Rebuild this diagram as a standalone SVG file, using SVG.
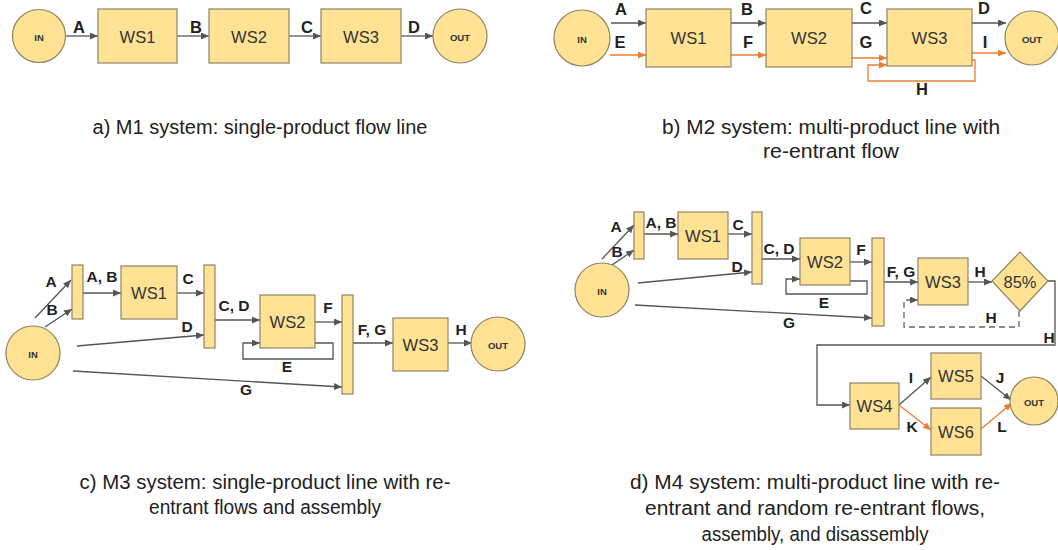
<svg xmlns="http://www.w3.org/2000/svg" width="1058" height="550" viewBox="0 0 1058 550">
<defs>
<style>
.nd{fill:#FFE293;stroke:#8F8465;stroke-width:1.2}
.ln{stroke:#555;stroke-width:1.3;fill:none}
.og{stroke:#ED7D31;stroke-width:1.3;fill:none}
.ds{stroke:#666;stroke-width:1.3;fill:none;stroke-dasharray:6 4}
.lb{font-family:"Liberation Sans",Arial,sans-serif;font-weight:bold;font-size:16.5px;fill:#222;text-anchor:middle}
.lb2{font-family:"Liberation Sans",Arial,sans-serif;font-weight:bold;font-size:15.5px;fill:#222;text-anchor:middle}
.ws{font-family:"Liberation Sans",Arial,sans-serif;font-size:16.5px;fill:#333;text-anchor:middle;dominant-baseline:central}
.io{font-family:"Liberation Sans",Arial,sans-serif;font-weight:bold;font-size:9.5px;fill:#333;text-anchor:middle;dominant-baseline:central}
.cp{font-family:"Liberation Sans",Arial,sans-serif;font-size:20px;fill:#222;text-anchor:middle}
</style>
<marker id="ag" viewBox="0 0 8 7" refX="8" refY="3.5" markerWidth="8" markerHeight="7" markerUnits="userSpaceOnUse" orient="auto"><path d="M0,0 L8,3.5 L0,7 z" fill="#555"/></marker>
<marker id="ao" viewBox="0 0 8 7" refX="8" refY="3.5" markerWidth="8" markerHeight="7" markerUnits="userSpaceOnUse" orient="auto"><path d="M0,0 L8,3.5 L0,7 z" fill="#ED7D31"/></marker>
</defs>
<rect width="1058" height="550" fill="#fff"/>

<!-- Panel a -->
<g id="connectors-a">
<line class="ln" x1="66" y1="36" x2="98" y2="36" marker-end="url(#ag)"/>
<line class="ln" x1="177" y1="36" x2="209" y2="36" marker-end="url(#ag)"/>
<line class="ln" x1="289" y1="36" x2="321" y2="36" marker-end="url(#ag)"/>
<line class="ln" x1="401" y1="36" x2="433" y2="36" marker-end="url(#ag)"/>
<text class="lb" x="79" y="33">A</text>
<text class="lb" x="196" y="33">B</text>
<text class="lb" x="307" y="33">C</text>
<text class="lb" x="414" y="33">D</text>
</g>
<g id="a-in"><circle class="nd" cx="39" cy="36" r="26.5"/><text class="io" x="39" y="37">IN</text></g>
<g id="a-ws1"><rect class="nd" x="98" y="9" width="79" height="54"/><text class="ws" x="137.5" y="37">WS1</text></g>
<g id="a-ws2"><rect class="nd" x="209" y="9" width="80" height="54"/><text class="ws" x="249" y="37">WS2</text></g>
<g id="a-ws3"><rect class="nd" x="321" y="9" width="80" height="54"/><text class="ws" x="361" y="37">WS3</text></g>
<g id="a-out"><circle class="nd" cx="460" cy="36" r="27"/><text class="io" x="460" y="37">OUT</text></g>
<text class="cp" x="260" y="134" textLength="335" lengthAdjust="spacingAndGlyphs">a) M1 system: single-product flow line</text>

<!-- Panel b -->
<g id="connectors-b">
<line class="ln" x1="611" y1="23" x2="646" y2="23" marker-end="url(#ag)"/>
<line class="og" x1="610" y1="55" x2="646" y2="55" marker-end="url(#ao)"/>
<line class="ln" x1="731" y1="23" x2="766" y2="23" marker-end="url(#ag)"/>
<line class="og" x1="731" y1="55" x2="766" y2="55" marker-end="url(#ao)"/>
<line class="ln" x1="852" y1="23" x2="887" y2="23" marker-end="url(#ag)"/>
<line class="og" x1="852" y1="58" x2="887" y2="58" marker-end="url(#ao)"/>
<polyline class="og" points="972,60 975,60 975,81 868,81 868,65 887,65" marker-end="url(#ao)"/>
<line class="ln" x1="972" y1="23" x2="1006" y2="23" marker-end="url(#ag)"/>
<line class="og" x1="972" y1="53" x2="1006" y2="53" marker-end="url(#ao)"/>
<text class="lb" x="621" y="15">A</text>
<text class="lb" x="620" y="48">E</text>
<text class="lb" x="747" y="15">B</text>
<text class="lb" x="748" y="48">F</text>
<text class="lb" x="866" y="14">C</text>
<text class="lb" x="866" y="48">G</text>
<text class="lb" x="984" y="14">D</text>
<text class="lb" x="985" y="48">I</text>
<text class="lb" x="922" y="95">H</text>
</g>
<g id="b-in"><circle class="nd" cx="582" cy="38" r="28"/><text class="io" x="582" y="39">IN</text></g>
<g id="b-ws1"><rect class="nd" x="646" y="9" width="85" height="58"/><text class="ws" x="688.5" y="38">WS1</text></g>
<g id="b-ws2"><rect class="nd" x="766" y="9" width="86" height="58"/><text class="ws" x="809" y="38">WS2</text></g>
<g id="b-ws3"><rect class="nd" x="887" y="9" width="85" height="57"/><text class="ws" x="929.5" y="38">WS3</text></g>
<g id="b-out"><circle class="nd" cx="1032" cy="38" r="27"/><text class="io" x="1032" y="39">OUT</text></g>
<text class="cp" x="831" y="134" textLength="338" lengthAdjust="spacingAndGlyphs">b) M2 system: multi-product line with</text>
<text class="cp" x="831" y="158" textLength="136" lengthAdjust="spacingAndGlyphs">re-entrant flow</text>

<!-- Panel c -->
<g id="connectors-c">
<line class="ln" x1="35" y1="318" x2="71" y2="280" marker-end="url(#ag)"/>
<line class="ln" x1="45" y1="327" x2="72" y2="309" marker-end="url(#ag)"/>
<line class="ln" x1="83" y1="293" x2="121" y2="293" marker-end="url(#ag)"/>
<line class="ln" x1="177" y1="293" x2="204" y2="293" marker-end="url(#ag)"/>
<line class="ln" x1="77" y1="346" x2="204" y2="335" marker-end="url(#ag)"/>
<line class="ln" x1="215" y1="320" x2="260" y2="320" marker-end="url(#ag)"/>
<polyline class="ln" points="315,343 333,343 333,359 243,359 243,343 260,343" marker-end="url(#ag)"/>
<line class="ln" x1="315" y1="322" x2="342" y2="322" marker-end="url(#ag)"/>
<line class="ln" x1="73" y1="371" x2="342" y2="387" marker-end="url(#ag)"/>
<line class="ln" x1="353" y1="343" x2="393" y2="343" marker-end="url(#ag)"/>
<line class="ln" x1="448" y1="343" x2="472" y2="343" marker-end="url(#ag)"/>
<text class="lb2" x="51" y="287">A</text>
<text class="lb2" x="52" y="315">B</text>
<text class="lb2" x="102" y="282">A, B</text>
<text class="lb2" x="188" y="284">C</text>
<text class="lb2" x="187" y="332">D</text>
<text class="lb2" x="234" y="311">C, D</text>
<text class="lb2" x="328" y="313">F</text>
<text class="lb2" x="287" y="372">E</text>
<text class="lb2" x="246" y="395">G</text>
<text class="lb2" x="372" y="335">F, G</text>
<text class="lb2" x="461" y="335">H</text>
</g>
<g id="c-in"><circle class="nd" cx="33" cy="353" r="27"/><text class="io" x="33" y="354">IN</text></g>
<g id="c-m1"><rect class="nd" x="72" y="265" width="11" height="54"/></g>
<g id="c-ws1"><rect class="nd" x="121" y="266" width="56" height="53"/><text class="ws" x="149" y="293">WS1</text></g>
<g id="c-m2"><rect class="nd" x="204" y="265" width="11" height="83"/></g>
<g id="c-ws2"><rect class="nd" x="260" y="295" width="55" height="53"/><text class="ws" x="287.5" y="322">WS2</text></g>
<g id="c-m3"><rect class="nd" x="342" y="295" width="11" height="99"/></g>
<g id="c-ws3"><rect class="nd" x="393" y="318" width="55" height="53"/><text class="ws" x="420.5" y="345">WS3</text></g>
<g id="c-out"><circle class="nd" cx="498" cy="344" r="27"/><text class="io" x="498" y="345">OUT</text></g>
<text class="cp" x="265" y="489" textLength="371" lengthAdjust="spacingAndGlyphs">c) M3 system: single-product line with re-</text>
<text class="cp" x="265" y="514" textLength="232" lengthAdjust="spacingAndGlyphs">entrant flows and assembly</text>

<!-- Panel d -->
<g id="connectors-d">
<line class="ln" x1="602" y1="259" x2="634" y2="225" marker-end="url(#ag)"/>
<line class="ln" x1="612" y1="265" x2="634" y2="250" marker-end="url(#ag)"/>
<line class="ln" x1="644" y1="234" x2="678" y2="234" marker-end="url(#ag)"/>
<line class="ln" x1="728" y1="234" x2="752" y2="234" marker-end="url(#ag)"/>
<line class="ln" x1="638" y1="283" x2="752" y2="272" marker-end="url(#ag)"/>
<line class="ln" x1="762" y1="259" x2="800" y2="259" marker-end="url(#ag)"/>
<polyline class="ln" points="850,281 867,281 867,294 786,294 786,279 800,279" marker-end="url(#ag)"/>
<line class="ln" x1="850" y1="262" x2="872" y2="262" marker-end="url(#ag)"/>
<line class="ln" x1="635" y1="305" x2="872" y2="318" marker-end="url(#ag)"/>
<line class="ln" x1="884" y1="282" x2="918" y2="282" marker-end="url(#ag)"/>
<line class="ln" x1="968" y1="282" x2="992" y2="282" marker-end="url(#ag)"/>
<polyline class="ds" points="1019,311 1019,327 904,327 904,300 918,300" marker-end="url(#ag)"/>
<polyline class="ln" points="1048,281 1055,281 1055,345 817,345 817,405 850,405" marker-end="url(#ag)"/>
<line class="ln" x1="899" y1="405" x2="931" y2="377" marker-end="url(#ag)"/>
<line class="og" x1="899" y1="405" x2="931" y2="430" marker-end="url(#ao)"/>
<line class="ln" x1="981" y1="376" x2="1011" y2="400" marker-end="url(#ag)"/>
<line class="og" x1="981" y1="429" x2="1012" y2="403" marker-end="url(#ao)"/>
<text class="lb2" x="616" y="232">A</text>
<text class="lb2" x="617" y="257">B</text>
<text class="lb2" x="661" y="228">A, B</text>
<text class="lb2" x="738" y="230">C</text>
<text class="lb2" x="779" y="254">C, D</text>
<text class="lb2" x="737" y="272">D</text>
<text class="lb2" x="861" y="255">F</text>
<text class="lb2" x="824" y="308">E</text>
<text class="lb2" x="789" y="328">G</text>
<text class="lb2" x="901" y="277">F, G</text>
<text class="lb2" x="980" y="277">H</text>
<text class="lb2" x="991" y="323">H</text>
<text class="lb2" x="1049" y="343">H</text>
<text class="lb2" x="911" y="383">I</text>
<text class="lb2" x="912" y="432">K</text>
<text class="lb2" x="1000" y="383">J</text>
<text class="lb2" x="1002" y="432">L</text>
</g>
<g id="d-in"><circle class="nd" cx="602" cy="290" r="27"/><text class="io" x="602" y="291">IN</text></g>
<g id="d-m1"><rect class="nd" x="634" y="212" width="10" height="47"/></g>
<g id="d-ws1"><rect class="nd" x="678" y="212" width="50" height="47"/><text class="ws" x="703" y="236">WS1</text></g>
<g id="d-m2"><rect class="nd" x="752" y="212" width="10" height="72"/></g>
<g id="d-ws2"><rect class="nd" x="800" y="238" width="50" height="47"/><text class="ws" x="825" y="262">WS2</text></g>
<g id="d-m3"><rect class="nd" x="872" y="238" width="12" height="88"/></g>
<g id="d-ws3"><rect class="nd" x="918" y="258" width="50" height="47"/><text class="ws" x="943" y="282">WS3</text></g>
<g id="d-dec"><polygon class="nd" points="1020,252 1048,281 1020,311 992,281"/><text class="ws" x="1020" y="282">85%</text></g>
<g id="d-ws4"><rect class="nd" x="850" y="383" width="49" height="46"/><text class="ws" x="874.5" y="406">WS4</text></g>
<g id="d-ws5"><rect class="nd" x="931" y="353" width="50" height="46"/><text class="ws" x="956" y="376">WS5</text></g>
<g id="d-ws6"><rect class="nd" x="931" y="408" width="50" height="47"/><text class="ws" x="956" y="432">WS6</text></g>
<g id="d-out"><circle class="nd" cx="1034" cy="401" r="24"/><text class="io" x="1034" y="402">OUT</text></g>
<text class="cp" x="815" y="489" textLength="370" lengthAdjust="spacingAndGlyphs">d) M4 system: multi-product line with re-</text>
<text class="cp" x="815" y="515" textLength="340" lengthAdjust="spacingAndGlyphs">entrant and random re-entrant flows,</text>
<text class="cp" x="815" y="541" textLength="227" lengthAdjust="spacingAndGlyphs">assembly, and disassembly</text>
</svg>
